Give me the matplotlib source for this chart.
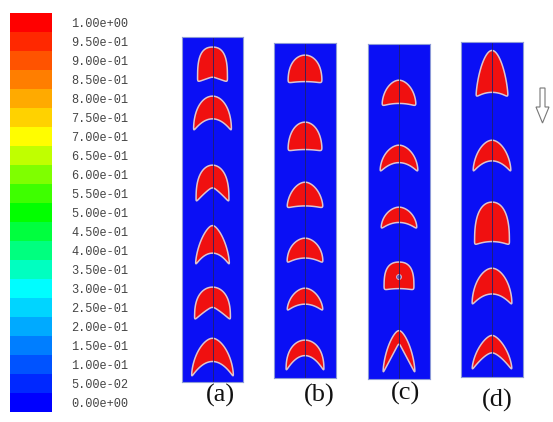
import numpy as np
import matplotlib.pyplot as plt
from matplotlib.colors import LinearSegmentedColormap
from matplotlib.patches import Polygon, FancyArrow, Circle

# colour scale (volume fraction)
levels = np.round(np.arange(0, 1.0001, 0.05), 2)
tick_labels = [f"{v:.2e}" for v in levels]
anchor_pos = [0.0, 0.3, 0.5, 0.7, 1.0]
anchor_col = ['#0000ff', '#00ffff', '#00ff00', '#ffff00', '#ff0000']

panel_names = ['(a)', '(b)', '(c)', '(d)']
label_x = [220, 319, 405, 497]
label_y = [395, 395, 393, 400]
# panel placement in px: left, top, width, height
panel_box = [(182, 37, 61, 345), (274, 43, 62, 335), (368, 44, 62, 335), (461, 42, 62, 335)]

# drops per panel, px from panel top
drop_top = [[10, 59, 128, 188, 250, 301],
            [12, 79, 139, 195, 245, 297],
            [36, 101, 163, 218, 286],
            [8, 98, 160, 226, 293]]
drop_bot = [[45, 94, 165, 228, 283, 340],
            [40, 108, 165, 220, 268, 328],
            [62, 128, 185, 246, 329],
            [55, 130, 203, 263, 328]]
drop_hw = [[15, 19, 16.5, 17, 18, 21],
           [17, 17, 18, 18, 18, 19],
           [17, 19, 18, 15, 16],
           [16, 19, 17.5, 20, 20]]
# dome shape exponents and bottom notch
dome_a = [[2.5, 2.0, 2.0, 1.5, 2.0, 1.7],
          [2.0, 2.0, 1.8, 1.8, 1.8, 2.0],
          [1.8, 1.8, 1.8, 2.5, 1.5],
          [1.8, 1.8, 2.2, 1.8, 1.5]]
dome_b = [[0.3, 0.45, 0.35, 0.6, 0.35, 0.55],
          [0.4, 0.45, 0.55, 0.45, 0.55, 0.4],
          [0.5, 0.5, 0.5, 0.3, 0.6],
          [0.65, 0.55, 0.35, 0.5, 0.6]]
notch = [[0.15, 0.35, 0.4, 0.3, 0.4, 0.4],
         [0.05, 0.05, 0.08, 0.2, 0.3, 0.5],
         [0.1, 0.35, 0.3, 0.05, 0.7],
         [0.1, 0.35, 0.08, 0.3, 0.5]]
notch_c = [[1, 2, 1.2, 2, 1.2, 2],
           [2, 2, 2, 2, 2, 2],
           [2, 2, 2, 2, 1],
           [2, 2, 2, 2, 1.5]]

W, H = 553, 422
fig = plt.figure(figsize=(W / 100, H / 100), dpi=100)


def px_axes(l, t, w, h):
    return fig.add_axes([l / W, 1 - (t + h) / H, w / W, h / H])


def outline(hw, top, bot, a, b, nd, c, n=200, sigma=1.8):
    u = np.linspace(-1, 1, n)
    h = bot - top
    yt = top + h * (1 - (1 - np.abs(u) ** a) ** b)
    yb = bot - h * nd * (1 - np.abs(u) ** c)
    xs = np.concatenate([hw * u, hw * u[::-1][1:-1]])
    ys = np.concatenate([yt, yb[::-1][1:-1]])
    # resample by arc length, then round off the corners a little
    seg = np.hypot(np.diff(np.r_[xs, xs[0]]), np.diff(np.r_[ys, ys[0]]))
    s = np.r_[0, np.cumsum(seg)]
    st = np.linspace(0, s[-1], 600, endpoint=False)
    xr = np.interp(st, s, np.r_[xs, xs[0]])
    yr = np.interp(st, s, np.r_[ys, ys[0]])
    ds = s[-1] / 600
    k = np.arange(-int(4 * sigma / ds), int(4 * sigma / ds) + 1)
    g = np.exp(-0.5 * (k * ds / sigma) ** 2)
    g /= g.sum()
    pad = len(k) // 2
    xr = np.convolve(np.r_[xr[-pad:], xr, xr[:pad]], g, mode='valid')
    yr = np.convolve(np.r_[yr[-pad:], yr, yr[:pad]], g, mode='valid')
    return np.column_stack([xr, yr])


# colour bar
cmap = LinearSegmentedColormap.from_list('fl', list(zip(anchor_pos, anchor_col)))
cax = px_axes(10, 13, 42, 399)
cax.imshow(levels[::-1, None], cmap=cmap, vmin=0, vmax=1, aspect='auto',
           extent=(0, 1, -0.5, len(levels) - 0.5), origin='upper')
cax.set_ylim(-0.5, len(levels) - 0.5)
cax.set_xticks([])
cax.yaxis.tick_right()
cax.set_yticks(np.arange(len(levels)))
cax.set_yticklabels(tick_labels, family='Liberation Mono', fontsize=8.6, color='#444444')
cax.tick_params(axis='y', length=0, pad=14)
for s in cax.spines.values():
    s.set_visible(False)

# panels
for k, (l, t, w, h) in enumerate(panel_box):
    ax = px_axes(l, t, w, h)
    ax.set_xlim(-w / 2, w / 2)
    ax.set_ylim(h, 0)
    ax.set_facecolor('#0a0ff5')
    ax.set_xticks([])
    ax.set_yticks([])
    for s in ax.spines.values():
        s.set_color('#8c9ad8')
        s.set_linewidth(0.8)
    for i in range(len(drop_top[k])):
        pts = outline(drop_hw[k][i], drop_top[k][i], drop_bot[k][i],
                      dome_a[k][i], dome_b[k][i], notch[k][i], notch_c[k][i])
        ax.add_patch(Polygon(pts, closed=True, facecolor='#f01010',
                             edgecolor='#dcc4d0', linewidth=1.1, joinstyle='round'))
    if k == 2:
        ax.add_patch(Circle((0, 233), 2.5, facecolor='#6060c0', edgecolor='#d8c0cc', lw=0.6))
    ax.axvline(0, color='#20206a', lw=0.6)

# labels and gravity arrow
ov = fig.add_axes([0, 0, 1, 1], facecolor='none')
ov.set_xlim(0, W)
ov.set_ylim(H, 0)
ov.axis('off')
for name, x, y in zip(panel_names, label_x, label_y):
    ov.text(x, y, name, ha='center', va='center', family='Liberation Serif',
            fontsize=19, color='#111111')
ov.add_patch(FancyArrow(542.5, 88, 0, 35, width=5, head_width=13, head_length=16,
                        length_includes_head=True, facecolor='white',
                        edgecolor='#777777', lw=0.8))

fig.savefig('out.png', dpi=100)
